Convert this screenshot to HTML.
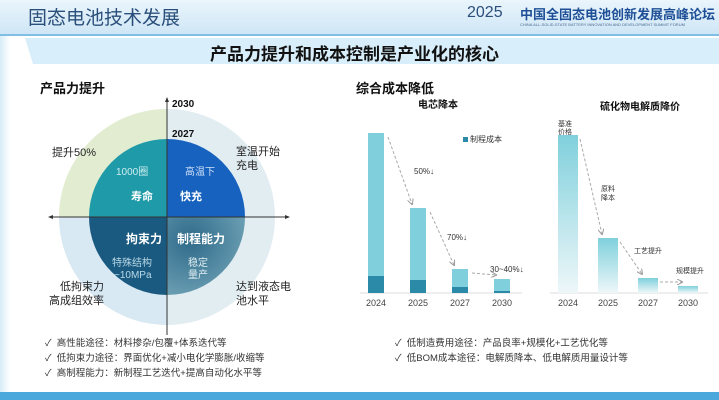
<!DOCTYPE html>
<html><head><meta charset="utf-8"><style>
body{margin:0;width:719px;height:400px;overflow:hidden;background:#fff;font-family:"Liberation Sans","Noto Sans CJK SC",sans-serif;position:relative}
.a{position:absolute;white-space:nowrap}
</style></head><body>
<div class="a" style="left:0;top:0;width:719px;height:34px;background:linear-gradient(#eaf5fc,#cfe6f6);border-bottom:2px solid #7fbfe6"></div>
<div class="a" style="left:0;top:36px;width:10px;height:356px;background:linear-gradient(90deg,#d7ecf8,#fff)"></div>
<div class="a" style="left:28px;top:3px;font-size:19px;color:#2a4f7a">固态电池技术发展</div>
<div class="a" style="left:467px;top:4px;font-size:16px;color:#2a4f7a">2025</div>
<div class="a" style="left:520px;top:4px;font-size:13px;font-weight:bold;color:#1e4f96">中国全固态电池创新发展高峰论坛</div>
<div class="a" style="left:520px;top:22px;font-size:4px;color:#4a6a90">CHINA ALL-SOLID-STATE BATTERY INNOVATION AND DEVELOPMENT SUMMIT FORUM</div>
<div class="a" style="left:25px;top:38px;width:694px;height:26px;background:#d8eefa;clip-path:polygon(0 0,100% 0,100% 100%,8px 100%)"></div>
<div class="a" style="left:210px;top:40px;font-size:17px;font-weight:bold;color:#111">产品力提升和成本控制是产业化的核心</div>
<div class="a" style="left:40px;top:78px;font-size:13px;font-weight:bold;color:#111">产品力提升</div>
<div class="a" style="left:356px;top:78px;font-size:13px;font-weight:bold;color:#111">综合成本降低</div>

<svg class="a" style="left:0;top:0" width="340" height="335" font-family="Liberation Sans,Noto Sans CJK SC,sans-serif">
<defs><radialGradient id="g4" cx="0.3" cy="0.3" r="1"><stop offset="0" stop-color="#2f6a8a"/><stop offset="1" stop-color="#7fb0c0"/></radialGradient></defs>
<path d="M167 217 L59 217 A108 108 0 0 1 167 109Z" fill="#e1ecd0"/>
<path d="M167 217 L167 109 A108 108 0 0 1 275 217Z" fill="#e2edf2"/>
<path d="M167 217 L275 217 A108 108 0 0 1 167 325Z" fill="#e2edf2"/>
<path d="M167 217 L167 325 A108 108 0 0 1 59 217Z" fill="#d8e9f3"/>
<path d="M167 217 L89 217 A78 78 0 0 1 167 139Z" fill="#1f9aa8"/>
<path d="M167 217 L167 139 A78 78 0 0 1 245 217Z" fill="#1662be"/>
<path d="M167 217 L245 217 A78 78 0 0 1 167 295Z" fill="url(#g4)"/>
<path d="M167 217 L167 295 A78 78 0 0 1 89 217Z" fill="#1b5a80"/>
<line x1="167" y1="100" x2="167" y2="335" stroke="#333" stroke-width="1"/>
<line x1="50" y1="217" x2="288" y2="217" stroke="#333" stroke-width="1"/>
<path d="M167 97 l-2 5 h4z M48 217 l5 -2 v4z M290 217 l-5 -2 v4z" fill="#333"/>
<text x="172" y="107" font-size="10" font-weight="bold" fill="#111">2030</text>
<text x="172" y="137" font-size="10" font-weight="bold" fill="#111">2027</text>
<text x="52" y="156" font-size="11" fill="#222">提升50%</text>
<text x="236" y="155" font-size="11" fill="#222">室温开始</text>
<text x="236" y="169" font-size="11" fill="#222">充电</text>
<text x="60" y="290" font-size="11" fill="#222">低拘束力</text>
<text x="49" y="304" font-size="11" fill="#222">高成组效率</text>
<text x="236" y="290" font-size="11" fill="#222">达到液态电</text>
<text x="236" y="304" font-size="11" fill="#222">池水平</text>
<text x="116" y="175" font-size="10" fill="#cdeef0">1000圈</text>
<text x="131" y="200" font-size="11" font-weight="bold" fill="#fff">寿命</text>
<text x="185" y="175" font-size="10" fill="#cfe0f8">高温下</text>
<text x="180" y="200" font-size="11" font-weight="bold" fill="#fff">快充</text>
<text x="126" y="243" font-size="12" font-weight="bold" fill="#fff">拘束力</text>
<text x="177" y="243" font-size="12" font-weight="bold" fill="#fff">制程能力</text>
<text x="112" y="266" font-size="10" fill="#b8d8e6">特殊结构</text>
<text x="114" y="278" font-size="10" fill="#b8d8e6">~10MPa</text>
<text x="188" y="266" font-size="10" fill="#e0eef2">稳定</text>
<text x="188" y="278" font-size="10" fill="#e0eef2">量产</text>
</svg>

<svg class="a" id="bars" style="left:0;top:0" width="719" height="320" font-family="Liberation Sans,Noto Sans CJK SC,sans-serif">
<defs><linearGradient id="gb" x1="0" y1="0" x2="0" y2="1"><stop offset="0" stop-color="#7fd0dc"/><stop offset="1" stop-color="#eef7f9"/></linearGradient>
<marker id="ar" markerWidth="6" markerHeight="6" refX="5" refY="3" orient="auto"><path d="M0 0 L6 3 L0 6" fill="none" stroke="#999"/></marker></defs>
<text x="418" y="108" font-size="10" font-weight="bold" fill="#111">电芯降本</text>
<text x="600" y="110" font-size="10" font-weight="bold" fill="#111">硫化物电解质降价</text>
<rect x="463" y="137" width="5" height="5" fill="#2a8aa8"/>
<text x="470" y="142" font-size="8" fill="#333">制程成本</text>
<text x="414" y="174" font-size="8" fill="#333">50%↓</text>
<text x="447" y="240" font-size="8" fill="#333">70%↓</text>
<text x="490" y="272" font-size="8" fill="#333">30~40%↓</text>
<text x="558" y="126" font-size="7" fill="#333">基准</text>
<text x="558" y="134" font-size="7" fill="#333">价格</text>
<text x="601" y="191" font-size="7" fill="#333">原料</text>
<text x="601" y="200" font-size="7" fill="#333">降本</text>
<text x="634" y="253" font-size="7" fill="#333">工艺提升</text>
<text x="676" y="273" font-size="7" fill="#333">规模提升</text>
<line x1="360" y1="293" x2="522" y2="293" stroke="#ddd"/>
<line x1="550" y1="293" x2="708" y2="293" stroke="#ddd"/>
</svg>

<div class="a" style="left:45px;top:335px;font-size:9.5px;color:#333">✓&nbsp; 高性能途径：材料掺杂/包覆+体系迭代等</div>
<div class="a" style="left:45px;top:350px;font-size:9.5px;color:#333">✓&nbsp; 低拘束力途径：界面优化+减小电化学膨胀/收缩等</div>
<div class="a" style="left:45px;top:365px;font-size:9.5px;color:#333">✓&nbsp; 高制程能力：新制程工艺迭代+提高自动化水平等</div>
<div class="a" style="left:395px;top:335px;font-size:9.5px;color:#333">✓&nbsp; 低制造费用途径：产品良率+规模化+工艺优化等</div>
<div class="a" style="left:395px;top:350px;font-size:9.5px;color:#333">✓&nbsp; 低BOM成本途径：电解质降本、低电解质用量设计等</div>
<div class="a" style="left:0;top:392px;width:719px;height:8px;background:#4aa8dc"></div>

<script>
const years = ['2024','2025','2027','2030'];
const cellTotal = [160, 85, 24, 14];
const cellProcess = [17, 13, 6, 2];
const electrolyte = [158, 55, 15, 7];
const NS='http://www.w3.org/2000/svg';
const svg=document.getElementById('bars');
const base=293;
function yS(v){return base - v;}
function mk(tag,attrs){const e=document.createElementNS(NS,tag);for(const k in attrs)e.setAttribute(k,attrs[k]);svg.appendChild(e);return e;}
function xL(i){return 368 + i*42;}
function xR(i){return 558 + i*40;}
years.forEach((y,i)=>{
  let r=mk('rect',{x:xL(i),y:yS(cellTotal[i]),width:16,height:cellTotal[i],fill:'#7fd0dc'});
  
  
  let d=mk('rect',{x:xL(i),y:yS(cellProcess[i]),width:16,height:cellProcess[i],fill:'#2a8aa8'});
  
  
  let e=mk('rect',{x:xR(i),y:yS(electrolyte[i]),width:20,height:electrolyte[i],fill:'url(#gb)'});
  
  
  let t=mk('text',{x:xL(i)+8,y:306,'font-size':9,'text-anchor':'middle',fill:'#444'});t.textContent=y;
  
  
  let t2=mk('text',{x:xR(i)+10,y:306,'font-size':9,'text-anchor':'middle',fill:'#444'});t2.textContent=y;
  
  
  if(i<3){
    let a=mk('line',{x1:xL(i)+20,y1:yS(cellTotal[i])+4,x2:xL(i+1)+2,y2:yS(cellTotal[i+1])-4,stroke:'#aaa','stroke-dasharray':'3,2','marker-end':'url(#ar)'});
    
    
    let b=mk('line',{x1:xR(i)+22,y1:yS(electrolyte[i])+4,x2:xR(i+1)+4,y2:yS(electrolyte[i+1])-4,stroke:'#aaa','stroke-dasharray':'3,2','marker-end':'url(#ar)'});
    
    
  }
});
</script>
</body></html>
